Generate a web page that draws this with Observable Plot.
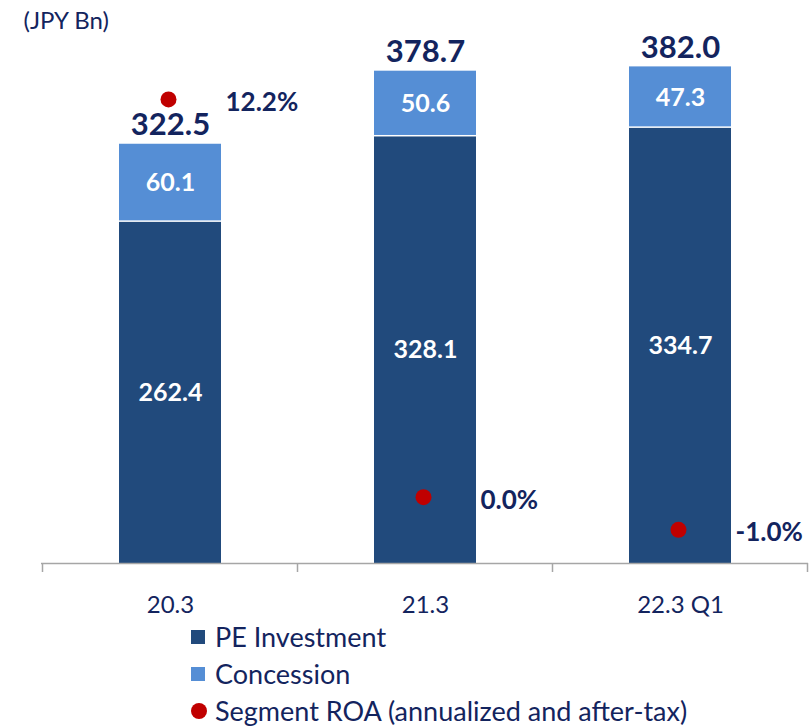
<!DOCTYPE html>
<html><head><meta charset="utf-8">
<script src="https://cdn.jsdelivr.net/npm/d3@7"></script>
<script src="https://cdn.jsdelivr.net/npm/@observablehq/plot@0.6"></script>
<style>
body{margin:0;background:#fff;font-family:Lato,sans-serif;}
#chart svg{display:block;}
#legend{padding-left:191px;color:#13245e;font-size:27px;font-family:Lato,sans-serif;}
.row{height:37px;display:flex;align-items:center;}
.sw{width:14px;height:14px;margin-right:10px;flex:none;}
.dot{width:16px;height:16px;border-radius:50%;margin-right:8px;flex:none;}
</style></head><body>
<div id="chart"></div>
<div id="legend"></div>
<script>
const categories = ["20.3", "21.3", "22.3 Q1"];
const peInvestment = [262.4, 328.1, 334.7];
const concession = [60.1, 50.6, 47.3];
const totals = [322.5, 378.7, 382.0];
const roa = [12.2, 0.0, -1.0];
const roaLabels = ["12.2%", "0.0%", "-1.0%"];
const seriesNames = ["PE Investment", "Concession", "Segment ROA (annualized and after-tax)"];

const navy = "#13245e";
const dark = "#214a7c";
const light = "#558ed5";
const red = "#c00000";

// secondary (ROA %) axis mapped onto primary units
const roaZero = 51;
const roaUnit = 25.08;

const rows = categories.map((c, i) => ({
  cat: c, pe: peInvestment[i], con: concession[i], total: totals[i],
  roa: roa[i], roaLabel: roaLabels[i]
}));

const plot = Plot.plot({
  width: 810,
  height: 618,
  marginTop: 4,
  marginBottom: 55,
  marginLeft: 41,
  marginRight: 2,
  style: {fontFamily: "Lato, sans-serif", background: "#fff"},
  x: {type: "band", domain: categories, paddingInner: 0.6, paddingOuter: 0.3, axis: null},
  y: {domain: [0, 430], axis: null},
  marks: [
    Plot.barY(rows, {x: "cat", y1: 0, y2: "pe", fill: dark}),
    Plot.barY(rows, {x: "cat", y1: "pe", y2: d => d.pe + d.con, fill: light, insetBottom: 1.5}),
    Plot.ruleY([0], {stroke: "#a6a6a6", strokeWidth: 1.5}),
    Plot.ruleX(categories, {x: d => d, y1: 0, y2: 0, dx: -128, insetBottom: -9, stroke: "#a6a6a6", strokeWidth: 1.5}),
    Plot.ruleX(categories.slice(-1), {x: d => d, y1: 0, y2: 0, dx: 127, insetBottom: -9, stroke: "#a6a6a6", strokeWidth: 1.5}),
    Plot.text(rows, {x: "cat", y: d => d.pe / 2, text: d => d.pe.toFixed(1), fill: "#fff", fontSize: 25, fontWeight: 700, lineAnchor: "middle"}),
    Plot.text(rows, {x: "cat", y: d => d.pe + d.con / 2, text: d => d.con.toFixed(1), fill: "#fff", fontSize: 25, fontWeight: 700, lineAnchor: "middle"}),
    Plot.text(rows, {x: "cat", y: "total", text: d => d.total.toFixed(1), fill: navy, fontSize: 31, fontWeight: 700, lineAnchor: "middle", dy: -19}),
    Plot.dot(rows, {x: "cat", y: d => roaZero + roaUnit * d.roa, r: 8, fill: red, dx: -2}),
    Plot.text(rows, {x: "cat", y: d => roaZero + roaUnit * d.roa, text: "roaLabel", fill: navy, fontSize: 26, fontWeight: 700, textAnchor: "start", lineAnchor: "middle", dx: 55, dy: 3}),
    Plot.text(categories, {x: d => d, frameAnchor: "bottom", dy: 42, text: d => d, fill: navy, fontSize: 24, lineAnchor: "middle"}),
    Plot.text(["(JPY Bn)"], {frameAnchor: "top-left", dx: -18, dy: 17, text: d => d, fill: navy, fontSize: 24, textAnchor: "start", lineAnchor: "middle"})
  ]
});
document.getElementById("chart").appendChild(plot);

const legend = document.getElementById("legend");
const markers = [
  {cls: "sw", color: dark},
  {cls: "sw", color: light},
  {cls: "dot", color: red}
];
seriesNames.forEach((name, i) => {
  const row = document.createElement("div");
  row.className = "row";
  const m = document.createElement("span");
  m.className = markers[i].cls;
  m.style.background = markers[i].color;
  const t = document.createElement("span");
  t.textContent = name;
  row.appendChild(m);
  row.appendChild(t);
  legend.appendChild(row);
});
</script>
</body></html>
